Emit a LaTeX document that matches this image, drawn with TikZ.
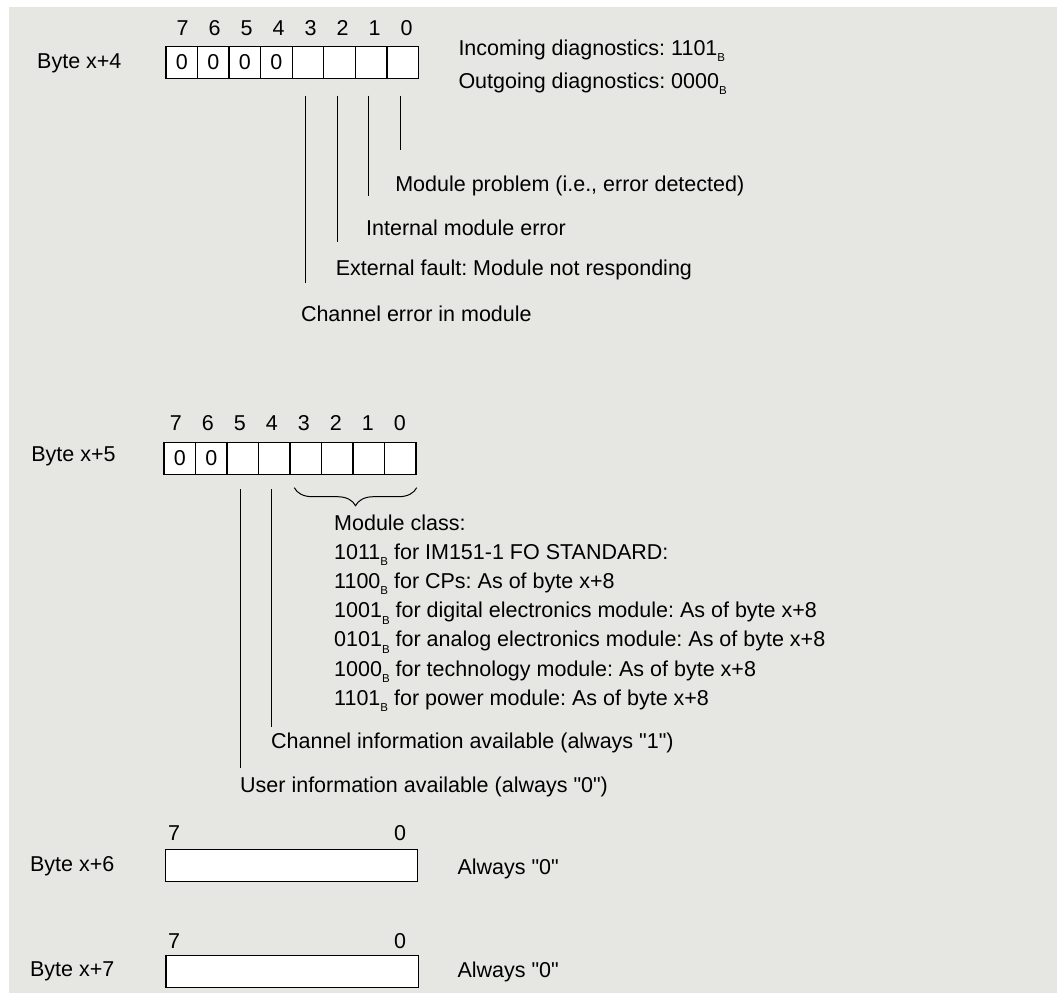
\documentclass[tikz,border=0pt]{standalone}
\usepackage{fontspec}
\setmainfont{Liberation Sans}[Ligatures=TeXOff]
\usetikzlibrary{positioning,decorations.pathreplacing}
\definecolor{bggray}{RGB}{230,230,226}
\newcommand\bsub{\raisebox{-6.5pt}{\fontsize{11.5}{12}\selectfont B}}
\frenchspacing
\tikzset{
  bitcell/.style={draw,fill=white,line width=1.3pt,minimum width=31.6pt,minimum height=32pt,inner sep=0pt,anchor=north west},
  wordbox/.style={draw,fill=white,line width=1.3pt,minimum width=252.5pt,minimum height=32pt,inner sep=0pt,anchor=north west},
  txt/.style={anchor=base west,inner sep=0pt},
  bitno/.style={anchor=base,inner sep=0pt},
  lead/.style={line width=1pt},
}
\begin{document}
\begin{tikzpicture}[x=1pt,y=1pt,font=\fontsize{21.5}{26}\selectfont]
\useasboundingbox (0,0) rectangle (1057,-996);
\fill[bggray] (9,-7) rectangle (1057,-993);

% byte x+4
\node[txt] (b4) at (37,-68.3) {Byte x+4};
\foreach \i/\v in {0/0,1/0,2/0,3/0,4/,5/,6/,7/}{
  \pgfmathtruncatemacro\bit{7-\i}
  \node[bitcell] (x4b\bit) at (165.3+31.56*\i,-45.7) {\v};
  \node[bitno] (x4n\bit) at (182.5+32*\i,-35) {\bit};
}
\node[txt] (inc) at (458.3,-55) {Incoming diagnostics: 1101\bsub};
\node[txt] (outg) at (458.3,-88.3) {Outgoing diagnostics: 0000\bsub};
\foreach \b/\l in {0/54,1/100,2/146.4,3/187.4}
  \draw[lead] ([xshift=-2.5,yshift=-16.6]x4b\b.south) -- ++(0,-\l);
\node[txt] (mp) at (395.1,-191.7) {Module problem (i.e., error detected)};
\node[txt] (ime) at (366,-235) {Internal module error};
\node[txt] (ef) at (335.6,-275) {External fault: Module not responding};
\node[txt] (ce) at (300.8,-321.7) {Channel error in module};

% byte x+5
\node[txt] (b5) at (31.1,-461.7) {Byte x+5};
\foreach \i/\v in {0/0,1/0,2/,3/,4/,5/,6/,7/}{
  \pgfmathtruncatemacro\bit{7-\i}
  \node[bitcell] (x5b\bit) at (163.3+31.5*\i,-441.7) {\v};
  \node[bitno] (x5n\bit) at (175.8+32*\i,-430.7) {\bit};
}
\draw[lead,decorate,decoration={brace,mirror,amplitude=18pt}]
  ([xshift=5,yshift=-12.7]x5b3.south west) -- ([yshift=-12.7]x5b0.south east);
\foreach \t [count=\k from 0] in {{Module class:},
    {1011\bsub{} for IM151-1 FO STANDARD:},
    {1100\bsub{} for CPs: As of byte x+8},
    {1001\bsub{} for digital electronics module: As of byte x+8},
    {0101\bsub{} for analog electronics module: As of byte x+8},
    {1000\bsub{} for technology module: As of byte x+8},
    {1101\bsub{} for power module: As of byte x+8}}
  \node[txt] (mc\k) at (334,-530-29.2*\k) {\t};
\draw[lead] ([xshift=-2.5,yshift=-14.3]x5b4.south) -- ++(0,-237.7);
\draw[lead] ([xshift=-2.5,yshift=-14.3]x5b5.south) -- ++(0,-278.4);
\node[txt] (ci) at (271,-748.3) {Channel information available (always "1")};
\node[txt] (ui) at (240,-792) {User information available (always "0")};

% byte x+6
\node[txt] (b6) at (29.9,-871.7) {Byte x+6};
\node[wordbox] (w6) at (164.6,-849) {};
\node[bitno] (w6h) at (174.1,-840) {7};
\node[bitno] (w6l) at (400,-840) {0};
\node[txt] (a6) at (457.3,-874.3) {Always "0"};

% byte x+7
\node[txt] (b7) at (29.9,-976) {Byte x+7};
\node[wordbox] (w7) at (165.3,-955) {};
\node[bitno] (w7h) at (174.1,-948.3) {7};
\node[bitno] (w7l) at (400,-948.3) {0};
\node[txt] (a7) at (457.3,-977.3) {Always "0"};
\end{tikzpicture}
\end{document}
